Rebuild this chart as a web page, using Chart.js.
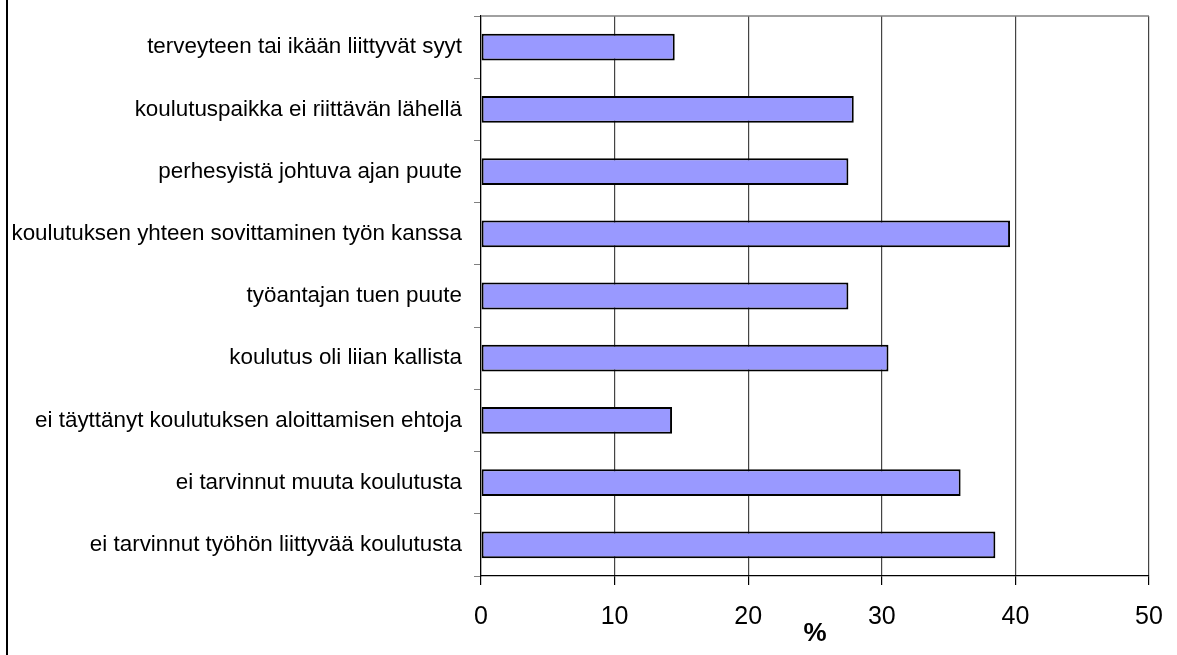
<!DOCTYPE html>
<html>
<head>
<meta charset="utf-8">
<script src="https://cdn.jsdelivr.net/npm/chart.js@4.4.0/dist/chart.umd.min.js"></script>
<style>
  html, body { margin: 0; padding: 0; background: #fff; }
  #wrap { position: relative; width: 1177px; height: 655px; }
  #edge { position: absolute; left: 6px; top: 0; width: 2px; height: 655px; background: #000; }
</style>
</head>
<body>
<div id="wrap">
  <canvas id="chart" width="1177" height="655"></canvas>
  <div id="edge"></div>
</div>
<script>
// categories (top to bottom)
const categories = [
  "terveyteen tai ikään liittyvät syyt",
  "koulutuspaikka ei riittävän lähellä",
  "perhesyistä johtuva ajan puute",
  "koulutuksen yhteen sovittaminen työn kanssa",
  "työantajan tuen puute",
  "koulutus oli liian kallista",
  "ei täyttänyt koulutuksen aloittamisen ehtoja",
  "ei tarvinnut muuta koulutusta",
  "ei tarvinnut työhön liittyvää koulutusta"
];
const values = [14.5, 27.9, 27.5, 39.6, 27.5, 30.5, 14.3, 35.9, 38.5];
const xTicks = [0, 10, 20, 30, 40, 50];

// top border of the plot area
const topBorder = {
  id: "topBorder",
  afterDraw(chart) {
    const { ctx, chartArea } = chart;
    ctx.save();
    ctx.strokeStyle = "#808080";
    ctx.lineWidth = 1.5;
    ctx.beginPath();
    ctx.moveTo(chartArea.left, chartArea.top);
    ctx.lineTo(chartArea.right, chartArea.top);
    ctx.stroke();
    ctx.restore();
  }
};

new Chart(document.getElementById("chart"), {
  type: "bar",
  data: {
    labels: categories,
    datasets: [{
      data: values,
      backgroundColor: "#9999ff",
      borderColor: "#000",
      borderWidth: 2,
      borderSkipped: false,
      barPercentage: 0.86,
      categoryPercentage: 0.5
    }]
  },
  options: {
    indexAxis: "y",
    responsive: false,
    animation: false,
    layout: { padding: { top: 16, right: 28, left: 0, bottom: 0 } },
    plugins: { legend: { display: false }, tooltip: { enabled: false } },
    scales: {
      x: {
        min: 0, max: 50,
        afterBuildTicks: s => { s.ticks = xTicks.map(v => ({ value: v })); },
        afterFit: s => { s.height = 79; s.paddingLeft = 0; s.paddingRight = 0; },
        grid: { color: "#444", lineWidth: 1.2, tickLength: 9, tickColor: "#000" },
        border: { color: "#000", width: 1.2 },
        ticks: { color: "#000", font: { family: "Liberation Sans, Arial", size: 25 }, padding: 17 },
        title: {
          display: true, text: "%", color: "#000",
          font: { family: "Liberation Sans, Arial", size: 26, weight: "bold" },
          padding: { top: 0, bottom: 6 }
        }
      },
      y: {
        afterFit: s => { s.width = 481; s.paddingTop = 0; s.paddingBottom = 0; },
        grid: { drawOnChartArea: false, tickLength: 7, color: "#808080", offset: true },
        border: { color: "#000", width: 1.2 },
        ticks: { color: "#000", font: { family: "Liberation Sans, Arial", size: 22.4 }, padding: 12 }
      }
    }
  },
  plugins: [topBorder]
});
</script>
</body>
</html>
